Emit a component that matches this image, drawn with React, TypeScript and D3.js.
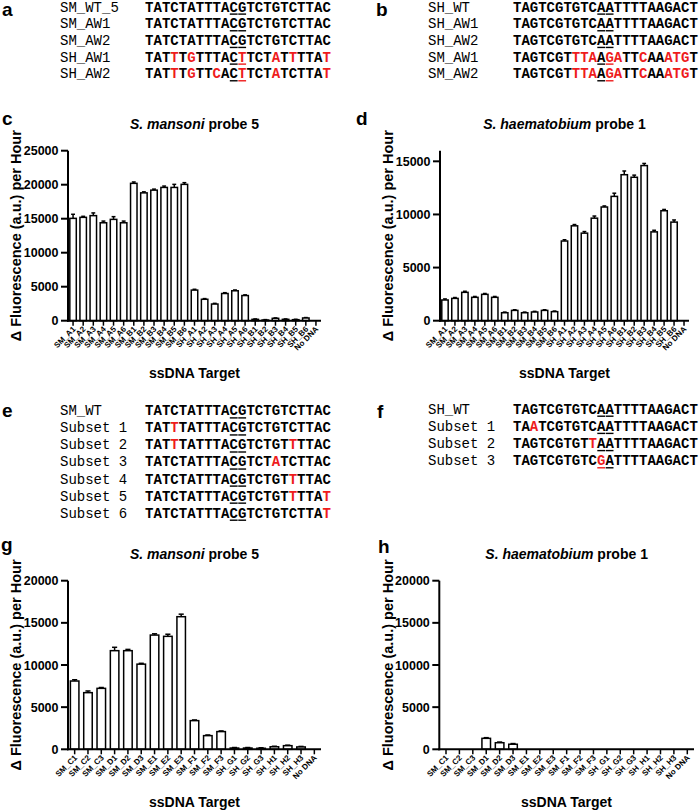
import React from "react";
import * as d3 from "d3";

// ---------- Sequence data ----------
const seqANames = ["SM_WT_5", "SM_AW1", "SM_AW2", "SH_AW1", "SH_AW2"];
const seqA = [
  "TATCTATTTACGTCTGTCTTAC",
  "TATCTATTTACGTCTGTCTTAC",
  "TATCTATTTACGTCTGTCTTAC",
  "TATTTGTTTACTTCTATTTTAT",
  "TATTTGTTCACTTCTATCTTAT",
];
const seqARed = [[], [], [], [3, 5, 11, 15, 17, 21], [3, 5, 8, 11, 15, 21]];

const seqBNames = ["SH_WT", "SH_AW1", "SH_AW2", "SM_AW1", "SM_AW2"];
const seqB = [
  "TAGTCGTGTCAATTTTAAGACT",
  "TAGTCGTGTCAATTTTAAGACT",
  "TAGTCGTGTCAATTTTAAGACT",
  "TAGTCGTTTAAGATTCAAATGT",
  "TAGTCGTTTAAGATTCAAATGT",
];
const seqBRed = [[], [], [], [7, 8, 9, 11, 12, 15, 18, 19, 20], [7, 8, 9, 11, 12, 15, 18, 19, 20]];

const seqENames = ["SM_WT", "Subset 1", "Subset 2", "Subset 3", "Subset 4", "Subset 5", "Subset 6"];
const seqE = [
  "TATCTATTTACGTCTGTCTTAC",
  "TATTTATTTACGTCTGTCTTAC",
  "TATTTATTTACGTCTGTTTTAC",
  "TATCTATTTACGTCTATCTTAC",
  "TATCTATTTACGTCTGTTTTAC",
  "TATCTATTTACGTCTGTTTTAT",
  "TATCTATTTACGTCTGTCTTAT",
];
const seqERed = [[], [3], [3, 17], [15], [17], [17, 21], [21]];

const seqFNames = ["SH_WT", "Subset 1", "Subset 2", "Subset 3"];
const seqF = [
  "TAGTCGTGTCAATTTTAAGACT",
  "TAATCGTGTCAATTTTAAGACT",
  "TAGTCGTGTTAATTTTAAGACT",
  "TAGTCGTGTCGATTTTAAGACT",
];
const seqFRed = [[], [2], [9], [10]];

const underlineIdx = [10, 11];

// ---------- Bar chart data ----------
const cdCategories = [
  "SM_A1", "SM_A2", "SM_A3", "SM_A4", "SM_A5", "SM_A6",
  "SM_B1", "SM_B2", "SM_B3", "SM_B4", "SM_B5", "SM_B6",
  "SH_A1", "SH_A2", "SH_A3", "SH_A4", "SH_A5", "SH_A6",
  "SH_B1", "SH_B2", "SH_B3", "SH_B4", "SH_B5", "SH_B6",
  "No DNA",
];
const cValues = [
  15050, 15200, 15450, 14400, 14900, 14400,
  20200, 18800, 19200, 19600, 19600, 20050,
  4500, 3150, 2450, 4000, 4400, 3700,
  200, 100, 350, 200, 150, 400,
  0,
];
const cErrors = [
  600, 150, 400, 250, 400, 250,
  200, 150, 150, 200, 450, 250,
  120, 100, 100, 120, 120, 100,
  60, 60, 60, 60, 60, 60,
  0,
];
const dValues = [
  1950, 2100, 2670, 2200, 2480, 2200,
  750, 970, 750, 820, 970, 850,
  7500, 8930, 8240, 9650, 10700, 11700,
  13740, 13500, 14600, 8360, 10350, 9280,
  0,
];
const dErrors = [
  100, 80, 100, 80, 80, 80,
  60, 60, 60, 60, 60, 60,
  120, 120, 150, 200, 100, 300,
  350, 200, 200, 150, 120, 200,
  0,
];

const ghCategories = [
  "SM_C1", "SM_C2", "SM_C3", "SM_D1", "SM_D2", "SM_D3",
  "SM_E1", "SM_E2", "SM_E3", "SM_F1", "SM_F2", "SM_F3",
  "SH_G1", "SH_G2", "SH_G3", "SH_H1", "SH_H2", "SH_H3",
  "No DNA",
];
const gValues = [
  8100, 6720, 7230, 11700, 11700, 10100,
  13550, 13400, 15730, 3400, 1620, 2100,
  150, 150, 120, 300, 430, 280,
  0,
];
const gErrors = [
  150, 200, 100, 400, 150, 100,
  150, 250, 300, 80, 80, 80,
  60, 60, 60, 60, 60, 60,
  0,
];
const hValues = [
  0, 0, 0, 1300, 780, 600,
  0, 0, 0, 0, 0, 0,
  0, 0, 0, 0, 0, 0,
  0,
];
const hErrors = [
  0, 0, 0, 80, 80, 80,
  0, 0, 0, 0, 0, 0,
  0, 0, 0, 0, 0, 0,
  0,
];

const ticks25 = [0, 5000, 10000, 15000, 20000, 25000];
const ticks16 = [0, 5000, 10000, 15000];
const ticks20 = [0, 5000, 10000, 15000, 20000];

const SANS = "'Liberation Sans', Arial, Helvetica, sans-serif";
const MONO = "'Liberation Mono', 'Courier New', monospace";
const RED = "#ee1c1c";

function SeqPanel({ names, seqs, reds, nameX, seqX, baseY, rowH, charW }: any) {
  const charX = d3.scaleLinear().domain([0, 1]).range([seqX, seqX + charW]);
  return (
    <g>
      {names.map((n: string, r: number) => {
        const y = baseY + r * rowH;
        const chars = seqs[r].split("");
        return (
          <g key={r}>
            <text x={nameX} y={y} fontFamily={MONO} fontSize={14} fill="#000">
              {n}
            </text>
            {chars.map((ch: string, i: number) => (
              <text
                key={i}
                x={charX(i)}
                y={y}
                fontFamily={MONO}
                fontSize={14}
                fontWeight="bold"
                fill={reds[r].includes(i) ? RED : "#000"}
              >
                {ch}
              </text>
            ))}
            {underlineIdx.map((i) => (
              <line
                key={"u" + i}
                x1={charX(i) + 0.3}
                x2={charX(i + 1) - 0.3}
                y1={y + 2.6}
                y2={y + 2.6}
                stroke={reds[r].includes(i) ? RED : "#000"}
                strokeWidth={1.4}
              />
            ))}
          </g>
        );
      })}
    </g>
  );
}

function BarPanel({
  cats, vals, errs, left, right, top, bottom, yMax, ticks,
  italic, rest, yLabelX, labelFont,
}: any) {
  const x = d3.scaleBand().domain(cats).range([left, right]).paddingInner(0.36).paddingOuter(0.18);
  const y = d3.scaleLinear().domain([0, yMax]).range([bottom, top]);
  const bw = x.bandwidth();
  const cx = (left + right) / 2;
  const cy = (top + bottom) / 2;
  const fmt = d3.format("d");
  return (
    <g fontFamily={SANS}>
      <text x={cx} y={top - 21.5} textAnchor="middle" fontSize={14} fontWeight="bold">
        <tspan fontStyle="italic">{italic}</tspan>
        <tspan>{rest}</tspan>
      </text>
      {cats.map((c: string, i: number) => {
        const v = vals[i];
        if (!v) return null;
        const bx = x(c) as number;
        const e = errs[i];
        const mid = bx + bw / 2;
        return (
          <g key={c}>
            <line x1={mid} x2={mid} y1={y(v)} y2={y(v + e)} stroke="#000" strokeWidth={1.5} />
            <line x1={mid - bw * 0.3} x2={mid + bw * 0.3} y1={y(v + e)} y2={y(v + e)} stroke="#000" strokeWidth={1.5} />
            <rect x={bx} y={y(v)} width={bw} height={bottom - y(v)} fill="#fff" stroke="#000" strokeWidth={1.5} />
          </g>
        );
      })}
      <line x1={left} x2={left} y1={bottom + 1} y2={top} stroke="#000" strokeWidth={2} />
      {ticks.map((t: number) => (
        <g key={t}>
          <line x1={left - 7} x2={left} y1={y(t)} y2={y(t)} stroke="#000" strokeWidth={2} />
          <text x={left - 9.5} y={y(t)} dy="0.36em" textAnchor="end" fontSize={12.5} fontWeight="bold">
            {fmt(t)}
          </text>
        </g>
      ))}
      <line x1={left - 1} x2={right} y1={bottom} y2={bottom} stroke="#000" strokeWidth={2} />
      {cats.map((c: string) => {
        const mid = (x(c) as number) + bw / 2;
        return (
          <g key={"t" + c}>
            <line x1={mid} x2={mid} y1={bottom} y2={bottom + 5} stroke="#000" strokeWidth={1.5} />
            <text
              transform={`translate(${mid + 3},${bottom + 9}) rotate(-45)`}
              textAnchor="end"
              fontSize={labelFont}
              fontWeight="bold"
            >
              {c}
            </text>
          </g>
        );
      })}
      <text
        transform={`translate(${yLabelX},${cy}) rotate(-90)`}
        textAnchor="middle"
        fontSize={14.5}
        fontWeight="bold"
      >
        Δ Fluorescence (a.u.) per Hour
      </text>
    </g>
  );
}

export default function App() {
  const letter = (t: string, x: number, y: number) => (
    <text x={x} y={y} fontFamily={SANS} fontSize={19} fontWeight="bold">
      {t}
    </text>
  );
  const xTitle = (x: number, y: number) => (
    <text x={x} y={y} textAnchor="middle" fontFamily={SANS} fontSize={14} fontWeight="bold">
      ssDNA Target
    </text>
  );
  return (
    <svg
      width={700}
      height={810}
      style={{ position: "absolute", left: 0, top: 0, background: "#fff" }}
    >
      <rect width={700} height={810} fill="#fff" />
      {letter("a", 2, 16)}
      {letter("b", 376, 16)}
      {letter("c", 2, 125)}
      {letter("d", 356, 125)}
      {letter("e", 2, 417)}
      {letter("f", 377, 418)}
      {letter("g", 1, 551)}
      {letter("h", 378, 553)}

      <SeqPanel names={seqANames} seqs={seqA} reds={seqARed} nameX={60} seqX={145} baseY={11.5} rowH={16.67} charW={8.45} />
      <SeqPanel names={seqBNames} seqs={seqB} reds={seqBRed} nameX={428} seqX={513} baseY={11.5} rowH={16.67} charW={8.4} />
      <SeqPanel names={seqENames} seqs={seqE} reds={seqERed} nameX={60} seqX={145} baseY={415.3} rowH={17.05} charW={8.45} />
      <SeqPanel names={seqFNames} seqs={seqF} reds={seqFRed} nameX={428} seqX={513} baseY={413.6} rowH={17.2} charW={8.4} />

      <BarPanel cats={cdCategories} vals={cValues} errs={cErrors} left={68} right={321} top={150.7} bottom={320.7}
        yMax={25000} ticks={ticks25} italic="S. mansoni" rest=" probe 5" yLabelX={20.5} labelFont={8} />
      <BarPanel cats={cdCategories} vals={dValues} errs={dErrors} left={440} right={689} top={150.7} bottom={320.7}
        yMax={16000} ticks={ticks16} italic="S. haematobium" rest=" probe 1" yLabelX={392.5} labelFont={8} />
      <BarPanel cats={ghCategories} vals={gValues} errs={gErrors} left={68} right={321} top={580.7} bottom={749.3}
        yMax={20000} ticks={ticks20} italic="S. mansoni" rest=" probe 5" yLabelX={20.5} labelFont={8} />
      <BarPanel cats={ghCategories} vals={hValues} errs={hErrors} left={439.3} right={694} top={580.7} bottom={749.3}
        yMax={20000} ticks={ticks20} italic="S. haematobium" rest=" probe 1" yLabelX={392.5} labelFont={8} />

      {xTitle(194.5, 377.5)}
      {xTitle(564.5, 377.5)}
      {xTitle(194.5, 806.5)}
      {xTitle(566.5, 806.5)}
    </svg>
  );
}
